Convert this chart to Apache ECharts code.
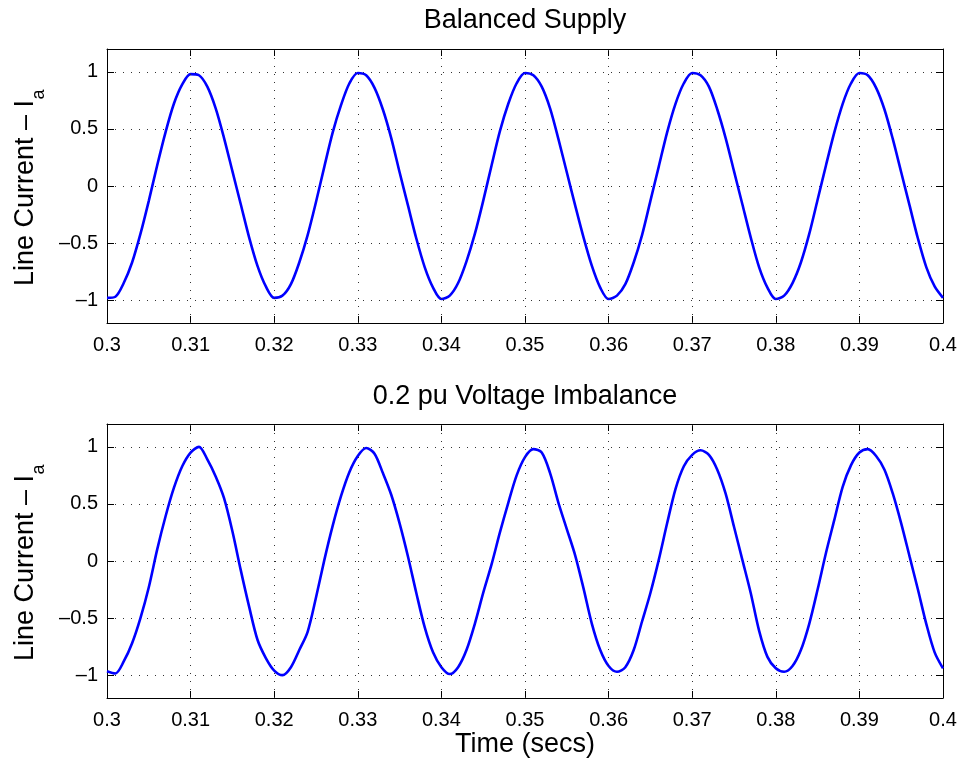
<!DOCTYPE html>
<html><head><meta charset="utf-8">
<script src="https://cdn.jsdelivr.net/npm/echarts@6/dist/echarts.min.js"></script>
<style>html,body{margin:0;padding:0;background:#fff}#c{width:962px;height:759px}</style>
</head><body><div id="c"></div>
<script>
const FONT = '"Liberation Sans", Arial, Helvetica, sans-serif';
const titles = ['Balanced Supply', '0.2 pu Voltage Imbalance'];
const yLabel = 'Line Current \u2013 I';
const yLabelSub = 'a';
const xLabel = 'Time (secs)';
const tStart = 0.3, tStep = 0.001;
const xMin = 0.3, xMax = 0.4, xInterval = 0.01;
const yMin = -1.2, yMax = 1.2;
const yTicks = [-1, -0.5, 0, 0.5, 1];
const xGridTicks = [0.31, 0.32, 0.33, 0.34, 0.35, 0.36, 0.37, 0.38, 0.39];

// Line current Ia, balanced supply, sampled every 1 ms from 0.300 s
const balanced = [
  -0.98, -0.97, -0.85, -0.67, -0.42, -0.13, 0.18, 0.47, 0.72, 0.89,
   0.98,  0.97,  0.87,  0.68,  0.42,  0.13, -0.16, -0.45, -0.70, -0.88,
  -0.98, -0.96, -0.86, -0.67, -0.43, -0.14, 0.17, 0.47, 0.71, 0.90,
   0.99,  0.97,  0.86,  0.67,  0.42,  0.12, -0.17, -0.46, -0.71, -0.89,
  -0.99, -0.96, -0.85, -0.66, -0.42, -0.13, 0.18, 0.48, 0.72, 0.90,
   0.99,  0.97,  0.87,  0.68,  0.41,  0.12, -0.17, -0.45, -0.70, -0.89,
  -0.99, -0.96, -0.86, -0.67, -0.43, -0.13, 0.17, 0.47, 0.72, 0.90,
   0.99,  0.97,  0.87,  0.67,  0.42,  0.13, -0.16, -0.45, -0.71, -0.89,
  -0.99, -0.96, -0.85, -0.67, -0.42, -0.12, 0.18, 0.47, 0.72, 0.90,
   0.99,  0.97,  0.86,  0.67,  0.41,  0.12, -0.17, -0.46, -0.71, -0.88,
  -0.98
];

// Line current Ia, 0.2 pu voltage imbalance, sampled every 1 ms from 0.300 s
const imbalanced = [
  -0.965, -0.985, -0.88, -0.72, -0.50, -0.23, 0.10, 0.39, 0.64, 0.83,
   0.95,  1.00,  0.89,  0.74,  0.55,  0.26, -0.08, -0.40, -0.69, -0.85,
  -0.96, -1.00, -0.93, -0.78, -0.62, -0.32,  0.01, 0.31, 0.57, 0.78,
   0.92,  0.99,  0.94,  0.77,  0.58,  0.33,  0.04, -0.28, -0.58, -0.80,
  -0.93, -0.99, -0.93, -0.78, -0.55, -0.28, -0.03, 0.25, 0.51, 0.75,
   0.91,  0.98,  0.95,  0.77,  0.51,  0.28,  0.05, -0.24, -0.55, -0.78,
  -0.92, -0.97, -0.93, -0.78, -0.53, -0.28,  0.01, 0.33, 0.63, 0.83,
   0.93,  0.97,  0.93,  0.80,  0.59,  0.30,  0.01, -0.28, -0.61, -0.84,
  -0.94, -0.97, -0.92, -0.78, -0.55, -0.25,  0.07, 0.36, 0.65, 0.84,
   0.95,  0.98,  0.92,  0.80,  0.59,  0.33,  0.04, -0.25, -0.55, -0.80,
  -0.94
];

const toPairs = vals => vals.map((v, i) => [+(tStart + i * tStep).toFixed(4), v]);

const GRID_LEFT = 107, GRID_W = 836;
const grids = [
  {left: GRID_LEFT, top: 49, width: GRID_W, height: 274},
  {left: GRID_LEFT, top: 424, width: GRID_W, height: 274}
];

const dotStyle = {color: '#333', type: [1, 7], width: 1};

function mkX(gi, pos, main) {
  return {
    type: 'value', gridIndex: gi, position: pos, min: xMin, max: xMax, interval: xInterval,
    axisLine: {show: true, onZero: false, lineStyle: {color: '#000', width: 1}},
    axisTick: {show: true, inside: true, length: 7, lineStyle: {color: '#000', width: 1}},
    axisLabel: {show: main, color: '#000', fontFamily: FONT, fontSize: 20, margin: 12,
      showMinLabel: true, showMaxLabel: true,
      formatter: v => String(+(+v).toFixed(2))},
    splitLine: {show: false}
  };
}
function mkY(gi, pos, main) {
  return {
    type: 'value', gridIndex: gi, position: pos, min: yMin, max: yMax,
    axisLine: {show: true, onZero: false, lineStyle: {color: '#000', width: 1}},
    axisTick: {show: true, inside: true, length: 7, customValues: yTicks, lineStyle: {color: '#000', width: 1}},
    axisLabel: {show: main, color: '#000', fontFamily: FONT, fontSize: 20, margin: 9,
      customValues: yTicks,
      formatter: v => String(+(+v).toFixed(2)).replace('-', '\u2013')},
    splitLine: {show: main, lineStyle: dotStyle}
  };
}

// vertical dotted grid lines, placed through the x axis scale
const vGrid = {
  silent: true, animation: false, symbol: ['none', 'none'],
  label: {show: false}, emphasis: {disabled: true},
  lineStyle: dotStyle,
  data: xGridTicks.map(v => ({xAxis: v}))
};

const LBL = 27;
const SUB = 18;
const meas = document.createElement('canvas').getContext('2d');
meas.font = LBL + 'px "Liberation Sans"';
const wMain = meas.measureText(yLabel).width;
meas.font = SUB + 'px "Liberation Sans"';
const wSub = meas.measureText(yLabelSub).width;

function yLabelGraphics(cy) {
  const y0 = cy + (wMain + wSub) / 2;
  return [
    {type: 'text', x: 26, y: y0, rotation: Math.PI / 2,
     style: {text: yLabel, font: LBL + 'px ' + FONT, fill: '#000', align: 'left', verticalAlign: 'middle'}},
    {type: 'text', x: 39.5, y: y0 - wMain - 0.5, rotation: Math.PI / 2,
     style: {text: yLabelSub, font: SUB + 'px ' + FONT, fill: '#000', align: 'left', verticalAlign: 'middle'}}
  ];
}

const cx = GRID_LEFT + GRID_W / 2;
const graphics = [
  {type: 'text', x: cx, y: 21, style: {text: titles[0], font: LBL + 'px ' + FONT, fill: '#000', align: 'center', verticalAlign: 'middle'}},
  {type: 'text', x: cx, y: 397, style: {text: titles[1], font: LBL + 'px ' + FONT, fill: '#000', align: 'center', verticalAlign: 'middle'}},
  {type: 'text', x: cx, y: 745, style: {text: xLabel, font: LBL + 'px ' + FONT, fill: '#000', align: 'center', verticalAlign: 'middle'}},
  ...yLabelGraphics(188),
  ...yLabelGraphics(563)
];

const chart = echarts.init(document.getElementById('c'), null, {renderer: 'canvas'});
chart.setOption({
  animation: false,
  backgroundColor: '#fff',
  grid: grids,
  xAxis: [mkX(0, 'bottom', true), mkX(1, 'bottom', true), mkX(0, 'top', false), mkX(1, 'top', false)],
  yAxis: [mkY(0, 'left', true), mkY(1, 'left', true), mkY(0, 'right', false), mkY(1, 'right', false)],
  series: [
    {type: 'line', xAxisIndex: 0, yAxisIndex: 0, data: toPairs(balanced), showSymbol: false, smooth: 0.3,
     lineStyle: {color: '#0000ff', width: 2.6}, markLine: vGrid},
    {type: 'line', xAxisIndex: 1, yAxisIndex: 1, data: toPairs(imbalanced), showSymbol: false, smooth: 0.3,
     lineStyle: {color: '#0000ff', width: 2.6}, markLine: vGrid}
  ],
  graphic: graphics
});
</script></body></html>
